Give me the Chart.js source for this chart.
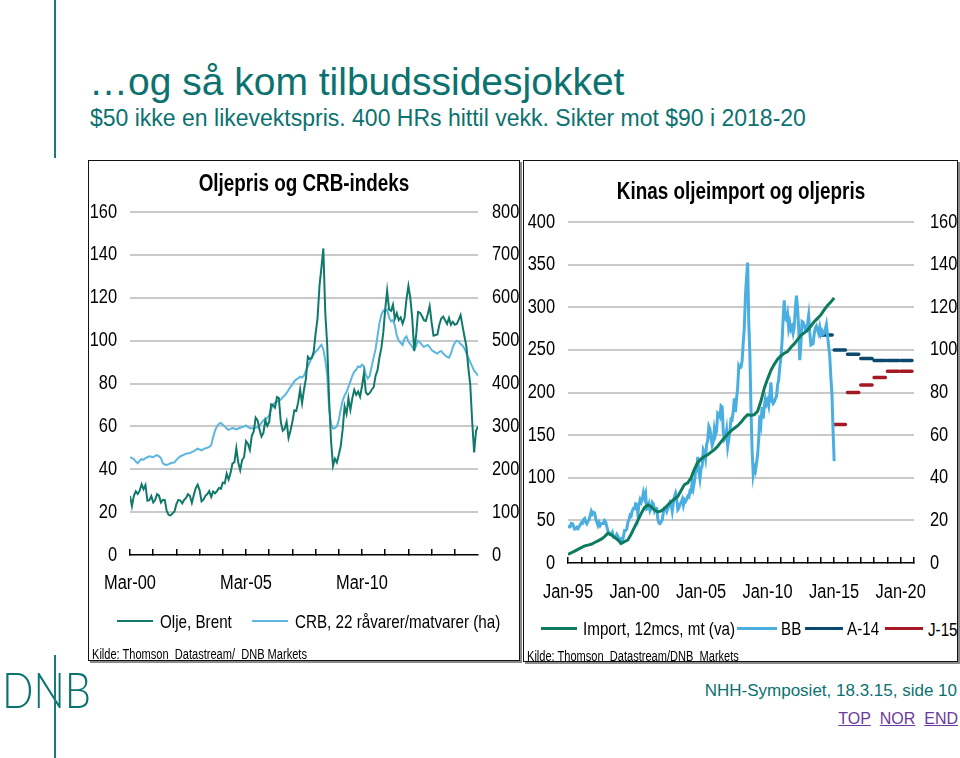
<!DOCTYPE html>
<html>
<head>
<meta charset="utf-8">
<script src="https://cdn.jsdelivr.net/npm/chart.js@4.4.1/dist/chart.umd.min.js"></script>
<style>
body { margin:0; width:960px; height:758px; position:relative; background:#fff; overflow:hidden; font-family:'Liberation Sans', Arial, sans-serif; }
.vline { position:absolute; left:54px; width:2px; background:#1b7a78; }
.box { position:absolute; border:1px solid #111; box-shadow:2px 2px 0 #8a8a8a; box-sizing:border-box; }
.t { position:absolute; white-space:nowrap; line-height:1; }
/* no Arial Narrow installed: squeeze Liberation Sans */
.nar { transform:scaleX(0.8); transform-origin:0 50%; }
.src { transform:scaleX(0.79); transform-origin:0 50%; }
.lg { position:absolute; }
canvas { position:absolute; }
a { color:#6b3a9c; }
</style>
</head>
<body>
<div class="vline" style="top:0;height:158px"></div>
<div class="t" style="left:89px;top:62px;font-size:39px;color:#0b7270">…og så kom tilbudssidesjokket</div>
<div class="t" style="left:90px;top:107px;font-size:23px;color:#0b7270">$50 ikke en likevektspris. 400 HRs hittil vekk. Sikter mot $90 i 2018-20</div>

<div class="box" style="left:88px;top:160px;width:432px;height:501px"></div>
<div class="box" style="left:523px;top:160px;width:435px;height:502px;overflow:hidden">
  <div class="t nar" style="left:404px;top:459px;font-size:19px">J-15</div>
</div>
<canvas id="left" width="432" height="500" style="left:88px;top:160px"></canvas>
<canvas id="right" width="434" height="500" style="left:524px;top:160px"></canvas>

<!-- legends -->
<div class="lg" style="left:117px;top:620px;width:36px;height:2px;background:#10796a"></div>
<div class="t nar" style="left:160px;top:612px;font-size:19px">Olje, Brent</div>
<div class="lg" style="left:252px;top:620px;width:36px;height:2px;background:#5db6e0"></div>
<div class="t nar" style="left:295px;top:612px;font-size:19px">CRB, 22 råvarer/matvarer (ha)</div>
<div class="t src" style="left:92px;top:647px;font-size:14px">Kilde: Thomson&nbsp; Datastream/&nbsp; DNB Markets</div>

<div class="lg" style="left:541px;top:627px;width:36px;height:3px;background:#0d7b5e"></div>
<div class="t nar" style="left:583px;top:619px;font-size:19px">Import, 12mcs, mt (va)</div>
<div class="lg" style="left:737px;top:627px;width:40px;height:3px;background:#4aaee0"></div>
<div class="t nar" style="left:781px;top:619px;font-size:19px">BB</div>
<div class="lg" style="left:805px;top:627px;width:38px;height:3px;background:#0b4a6e"></div>
<div class="t nar" style="left:847px;top:619px;font-size:19px">A-14</div>
<div class="lg" style="left:885px;top:627px;width:38px;height:3px;background:#a31a24"></div>
<div class="t src" style="left:527px;top:649px;font-size:14px">Kilde: Thomson&nbsp; Datastream/DNB&nbsp; Markets</div>

<!-- footer -->
<div class="t" style="left:2px;top:664px;font-size:50px;color:#0b7270;font-family:Lato, 'Liberation Sans', sans-serif;font-weight:300;transform:scaleX(0.83);transform-origin:0 50%">DNB</div>
<div class="vline" style="top:655px;height:103px"></div>
<div class="t" style="right:3px;top:682px;font-size:17px;color:#0b7270">NHH-Symposiet, 18.3.15, side 10</div>
<div class="t" style="right:2px;top:711px;font-size:16px"><a href="#">TOP</a>&nbsp; <a href="#">NOR</a>&nbsp; <a href="#">END</a></div>

<script>
// fonts
Chart.defaults.font.family = "'Liberation Sans', Arial, sans-serif";
Chart.defaults.color = '#000';
Chart.defaults.animation = false;

// squeeze canvas text like Arial Narrow
const narrowText = {
  id: 'narrowText',
  beforeDraw(chart) {
    const c = chart.ctx;
    if (c._narrow) return;
    const fill = c.fillText.bind(c);
    c.fillText = (t, x, y) => fill(t, x, y, c.measureText(t).width * 0.82);
    c._narrow = true;
  }
};

// ---- venstre: Oljepris og CRB-indeks (månedlig fra Mar-00) ----
let leftTickLabels = ['Mar-00', 'Mar-05', 'Mar-10'];
let brent = [
  27.5, 22.8, 27.6, 29.7, 28.5, 30.0, 33.0, 30.7, 32.6, 25.3,
  25.6, 27.5, 24.5, 25.6, 28.4, 27.7, 24.5, 25.7, 25.6, 20.5, 18.7, 18.5,
  19.4, 20.3, 23.7, 25.7, 25.4, 24.1, 25.7, 26.6, 28.4, 27.5, 24.3, 28.0,
  31.2, 32.8, 30.3, 25.0, 25.8, 27.6, 28.4, 29.8, 27.1, 29.6, 28.8, 29.8,
  31.3, 30.9, 33.8, 33.4, 37.9, 35.2, 38.2, 42.7, 43.2, 49.8, 43.1, 39.6,
  44.3, 45.6, 53.1, 51.9, 49.0, 55.6, 57.6, 64.1, 62.8, 58.5, 55.2, 56.9,
  62.9, 60.2, 62.1, 70.3, 69.8, 68.7, 73.7, 73.2, 62.0, 58.0, 58.9, 62.2,
  54.6, 58.0, 62.1, 67.5, 67.2, 71.3, 77.2, 70.8, 77.1, 82.3, 92.5, 91.5,
  91.9, 94.8, 103.3, 110.4, 125.5, 133.9, 143.0, 113.0, 98.1, 72.3, 53.2, 41.6,
  44.9, 43.2, 46.8, 50.8, 58.6, 69.3, 65.8, 73.1, 67.7, 73.2, 77.0, 74.7,
  76.2, 73.8, 78.8, 84.8, 75.9, 74.8, 75.6, 77.1, 78.2, 83.5, 86.1, 92.0,
  96.5, 103.7, 114.6, 123.3, 114.5, 113.9, 116.7, 110.2, 112.8, 109.6, 110.8, 107.9,
  110.7, 119.3, 125.5, 119.8, 110.3, 95.2, 102.6, 113.4, 113.0, 111.5, 109.5, 109.2,
  112.3, 116.1, 108.5, 102.3, 102.6, 102.9, 107.4, 110.3, 111.2, 109.5, 107.8, 110.6,
  107.4, 108.8, 107.4, 107.8, 109.7, 111.9, 106.9, 101.9, 97.3, 87.3, 79.4, 62.3,
  47.8, 58.0, 60.0
];
let crb = [
  228, 226, 224, 218, 214, 220, 224, 222, 226, 228,
  230, 229, 228, 231, 233, 230, 226, 214, 211, 210, 212, 214,
  215, 216, 222, 226, 230, 232, 234, 236, 237, 238, 240, 242,
  245, 248, 246, 244, 247, 249, 250, 252, 256, 275, 290, 300,
  306, 308, 304, 300, 295, 292, 294, 296, 295, 293, 295, 297,
  298, 300, 302, 298, 296, 295, 296, 297, 298, 302, 308, 314,
  316, 320, 326, 340, 352, 355, 358, 360, 362, 368, 372, 378,
  385, 392, 398, 405, 410, 412, 416, 414, 418, 430, 440, 450,
  460, 468, 475, 478, 485, 490, 480, 455, 420, 340, 305, 295,
  296, 300, 315, 340, 360, 372, 380, 392, 405, 418, 428, 432,
  440, 438, 444, 440, 420, 412, 418, 440, 460, 480, 510, 540,
  560, 570, 568, 572, 555, 545, 548, 535, 512, 500, 495, 490,
  505, 510, 498, 492, 485, 478, 488, 500, 496, 490, 485, 488,
  490, 485, 478, 475, 472, 470, 474, 476, 470, 466, 462, 460,
  470, 485, 495, 500, 498, 492, 488, 482, 470, 460, 450, 440,
  430, 425, 418
];

// ---- høyre: Kinas oljeimport og oljepris ----
let rightTickLabels = ['Jan-95', 'Jan-00', 'Jan-05', 'Jan-10', 'Jan-15', 'Jan-20'];
// import, 12mnd sum, mill. tonn, kvartalsvis fra Jan-95
let importMt = [
  10, 12, 14, 16,  18, 20, 21, 22,  24, 26, 28, 31,  35, 33, 30, 27,
  23, 25, 27, 34,  42, 50, 58, 65,  68, 66, 62, 60,  61, 64, 68, 72,
  75, 78, 85, 92,  94, 100, 110, 118,  122, 125, 127, 130,  133, 137, 142, 147,
  151, 155, 158, 161,  165, 170, 174, 173,  174, 178, 190, 205,  216, 226, 233, 239,
  243, 246, 248, 253,  257, 262, 267, 270,  273, 278, 283, 287,  291, 297, 302, 306,
  311
];
// Brent, månedlig fra Jan-95
let bb = [
  16.6, 17.1, 17.0, 18.6, 18.4, 17.3, 15.9, 16.1, 16.7, 16.1, 17.0, 17.9,
  18.9, 18.6, 20.4, 20.9, 19.2, 18.4, 19.6, 20.4, 22.3, 24.3, 23.0, 23.8,
  23.5, 20.8, 19.2, 17.6, 19.0, 17.6, 18.5, 18.6, 18.5, 19.9, 19.2, 17.1,
  15.1, 14.1, 13.3, 13.4, 14.4, 12.1, 12.1, 12.0, 13.4, 12.6, 11.0, 9.8,
  11.1, 10.3, 12.5, 15.3, 15.3, 15.9, 19.1, 20.3, 22.5, 22.1, 24.6, 25.6,
  25.5, 27.8, 27.5, 22.8, 27.6, 29.7, 28.5, 30.0, 33.0, 30.7, 32.6, 25.3,
  25.6, 27.5, 24.5, 25.6, 28.4, 27.7, 24.5, 25.7, 25.6, 20.5, 18.7, 18.5,
  19.4, 20.3, 23.7, 25.7, 25.4, 24.1, 25.7, 26.6, 28.4, 27.5, 24.3, 28.0,
  31.2, 32.8, 30.3, 25.0, 25.8, 27.6, 28.4, 29.8, 27.1, 29.6, 28.8, 29.8,
  31.3, 30.9, 33.8, 33.4, 37.9, 35.2, 38.2, 42.7, 43.2, 49.8, 43.1, 39.6,
  44.3, 45.6, 53.1, 51.9, 49.0, 55.6, 57.6, 64.1, 62.8, 58.5, 55.2, 56.9,
  62.9, 60.2, 62.1, 70.3, 69.8, 68.7, 73.7, 73.2, 62.0, 58.0, 58.9, 62.2,
  54.6, 58.0, 62.1, 67.5, 67.2, 71.3, 77.2, 70.8, 77.1, 82.3, 92.5, 91.5,
  91.9, 94.8, 103.3, 110.4, 125.5, 134.0, 141.0, 113.0, 98.1, 72.3, 53.2, 41.6,
  44.9, 43.2, 46.8, 50.8, 58.6, 69.3, 65.8, 73.1, 67.7, 73.2, 77.0, 74.7,
  76.2, 73.8, 78.8, 84.8, 75.9, 74.8, 75.6, 77.1, 78.2, 83.5, 86.1, 92.0,
  96.5, 103.7, 114.6, 123.3, 114.5, 113.9, 116.7, 110.2, 112.8, 109.6, 110.8, 107.9,
  110.7, 119.3, 125.5, 119.8, 110.3, 95.2, 102.6, 113.4, 113.0, 111.5, 109.5, 109.2,
  112.3, 116.1, 108.5, 102.3, 102.6, 102.9, 107.4, 110.3, 111.2, 109.5, 107.8, 110.6,
  107.4, 108.8, 107.4, 107.8, 109.7, 111.9, 106.9, 101.9, 97.3, 87.3, 79.4, 62.3,
  47.8
];
// terminkurver, årssnitt
let a14Years = [2014, 2015, 2016, 2017, 2018, 2019, 2020];
let a14 = [107, 100, 98, 96, 95, 95, 95];
let j15Years = [2015, 2016, 2017, 2018, 2019, 2020];
let j15 = [65, 80, 83.5, 87, 90, 90];

function monthly(arr, start) {
  return arr.map((v, i) => ({ x: start + i / 12, y: v }));
}
function yearBars(years, vals) {
  let out = [];
  years.forEach((yr, i) => {
    out.push({ x: yr, y: vals[i] }, { x: yr + 0.85, y: vals[i] }, { x: yr + 0.9, y: null });
  });
  return out;
}

let gridColor = (c) => c.tick.value === 0 ? 'rgba(0,0,0,0)' : '#c9c9c9';
let tickFont = { size: 20 };
// fixed bottom axis height, no extra side padding for first label
let fixX = (h) => (s) => { s.height = h; s.paddingLeft = 0; s.paddingRight = 0; };

// venstre graf
let ctx = document.getElementById('left').getContext('2d');
let leftChart = new Chart(ctx, {
  type: 'line',
  data: {
    datasets: [{
      data: brent.map((v, i) => ({ x: i, y: v })),
      borderColor: '#10796a',
      borderWidth: 2,
      yAxisID: 'y'
    }, {
      data: crb.map((v, i) => ({ x: i, y: v })),
      borderColor: '#5db6e0',
      borderWidth: 2,
      yAxisID: 'y1'
    }]
  },
  options: {
    responsive: false,
    elements: { point: { radius: 0 }, line: { tension: 0 } },
    layout: { padding: 0 },
    plugins: {
      legend: { display: false },
      tooltip: { enabled: false },
      title: {
        display: true,
        text: 'Oljepris og CRB-indeks',
        font: { size: 23, weight: 'bold' },
        padding: { top: 11, bottom: 13.4 }
      }
    },
    scales: {
      x: {
        type: 'linear', min: 0, max: 180,
        afterFit: fixX(105),
        ticks: {
          stepSize: 12, autoSkip: false, maxRotation: 0, padding: 22, font: tickFont,
          callback: (v) => v % 60 === 0 ? leftTickLabels[v / 60] : ''
        },
        grid: { drawOnChartArea: false, tickLength: -6, color: '#000', lineWidth: 1.5 },
        border: { color: '#000', width: 1.5 }
      },
      y: {
        min: 0, max: 160,
        afterFit: (s) => { s.width = 42; },
        ticks: { stepSize: 20, padding: 13, font: tickFont },
        grid: { color: gridColor, lineWidth: 2, drawTicks: false },
        border: { display: false }
      },
      y1: {
        position: 'right', min: 0, max: 800,
        afterFit: (s) => { s.width = 42; },
        ticks: { stepSize: 100, padding: 14, font: tickFont },
        grid: { display: false, drawTicks: false },
        border: { display: false }
      }
    }
  },
  plugins: [narrowText]
});

// høyre graf
let ctx2 = document.getElementById('right').getContext('2d');
let rightChart = new Chart(ctx2, {
  type: 'line',
  data: {
    datasets: [{
      label: 'Import, 12mcs, mt (va)',
      data: importMt.map((v, i) => ({ x: 1995 + i / 4, y: v })),
      borderColor: '#0d7b5e',
      borderWidth: 3,
      yAxisID: 'y'
    }, {
      label: 'BB',
      data: monthly(bb, 1995),
      borderColor: '#4aaee0',
      borderWidth: 3,
      yAxisID: 'y1'
    }, {
      label: 'A-14',
      data: yearBars(a14Years, a14),
      borderColor: '#0b4a6e',
      borderWidth: 3.5,
      borderCapStyle: 'round',
      spanGaps: false,
      yAxisID: 'y1'
    }, {
      label: 'J-15',
      data: yearBars(j15Years, j15),
      borderColor: '#a31a24',
      borderWidth: 3.5,
      borderCapStyle: 'round',
      spanGaps: false,
      yAxisID: 'y1'
    }]
  },
  options: {
    responsive: false,
    elements: { point: { radius: 0 }, line: { tension: 0 } },
    layout: { padding: 0 },
    plugins: {
      legend: { display: false },
      tooltip: { enabled: false },
      title: {
        display: true,
        text: 'Kinas oljeimport og oljepris',
        font: { size: 23, weight: 'bold' },
        padding: { top: 19, bottom: 15.4 }
      }
    },
    scales: {
      x: {
        type: 'linear', min: 1995, max: 2021,
        afterFit: fixX(97),
        ticks: {
          stepSize: 1, autoSkip: false, maxRotation: 0, padding: 23, font: tickFont,
          callback: (v) => (v - 1995) % 5 === 0 ? rightTickLabels[(v - 1995) / 5] : ''
        },
        grid: { drawOnChartArea: false, tickLength: -6, color: '#000', lineWidth: 1.5 },
        border: { color: '#000', width: 1.5 }
      },
      y: {
        min: 0, max: 400,
        afterFit: (s) => { s.width = 44; },
        ticks: { stepSize: 50, padding: 13, font: tickFont },
        grid: { color: gridColor, lineWidth: 2, drawTicks: false },
        border: { display: false }
      },
      y1: {
        position: 'right', min: 0, max: 160,
        afterFit: (s) => { s.width = 44; },
        ticks: { stepSize: 20, padding: 16, font: tickFont },
        grid: { display: false, drawTicks: false },
        border: { display: false }
      }
    }
  },
  plugins: [narrowText]
});
</script>
</body>
</html>
